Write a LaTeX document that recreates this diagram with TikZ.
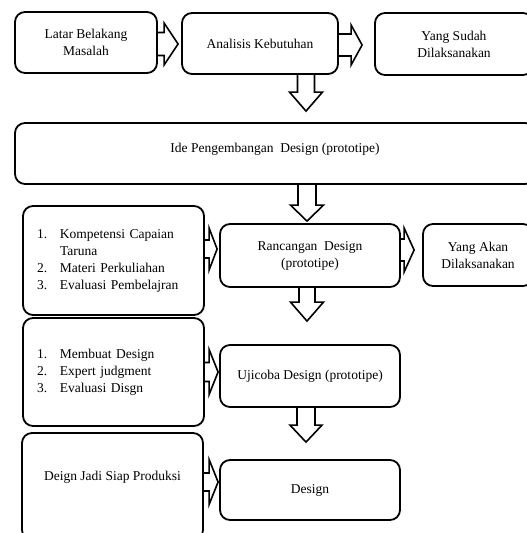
\documentclass[tikz,border=0pt]{standalone}
\usepackage{fontspec}
\setmainfont{Liberation Serif}
\usetikzlibrary{calc}
\pgfdeclarelayer{bg}
\pgfsetlayers{bg,main}
\tikzset{
  box/.style={draw, line width=1.8pt, rounded corners=10pt, fill=white, align=center,
    font=\fontsize{13.5}{17}\selectfont},
  txt/.style={align=center, inner sep=0pt, font=\fontsize{13.5}{17}\selectfont},
  blk/.style={draw, line width=1.6pt, fill=white, line join=miter}
}
% right block arrow: from, to, y, shaft half, head half, head length, gap
\newcommand{\rarr}[7]{%
  \begin{pgfonlayer}{bg}
  \draw[blk] let \p1=(#1.east), \p2=(#2.west) in
    (\x1,-#3pt+#4pt) -- (\x2-#7pt-#6pt,-#3pt+#4pt) -- (\x2-#7pt-#6pt,-#3pt+#5pt)
    -- (\x2-#7pt,-#3pt) -- (\x2-#7pt-#6pt,-#3pt-#5pt) -- (\x2-#7pt-#6pt,-#3pt-#4pt)
    -- (\x1,-#3pt-#4pt);
  \end{pgfonlayer}}
% down block arrow: from, to, x, shaft half, head half, head length, gap
\newcommand{\darr}[7]{%
  \begin{pgfonlayer}{bg}
  \draw[blk] let \p1=(#1.south), \p2=(#2.north) in
    (#3pt-#4pt,\y1) -- (#3pt-#4pt,\y2+#7pt+#6pt) -- (#3pt-#5pt,\y2+#7pt+#6pt)
    -- (#3pt,\y2+#7pt) -- (#3pt+#5pt,\y2+#7pt+#6pt) -- (#3pt+#4pt,\y2+#7pt+#6pt)
    -- (#3pt+#4pt,\y1);
  \end{pgfonlayer}}
\begin{document}
\begin{tikzpicture}
\useasboundingbox (0,0) rectangle (527pt,-533pt);
% row 1
\node[box, minimum width=142pt, minimum height=61pt] (b1) at (86pt,-42.5pt) {Latar Belakang\\Masalah};
\node[box, minimum width=156pt, minimum height=61pt] (b2) at (260pt,-43.5pt) {Analisis Kebutuhan};
\node[box, minimum width=158pt, minimum height=62pt] (b3) at (454pt,-44pt) {Yang Sudah\\Dilaksanakan};
% row 2
\node[box, minimum width=520pt, minimum height=61pt] (ide) at (275pt,-153.5pt) {};
\node[txt] (idetxt) at (275pt,-149pt) {Ide Pengembangan\ \ Design (prototipe)};
% row 3
\node[box, minimum width=181pt, minimum height=109pt, text width=153pt, inner xsep=14pt, align=left] (komp) at (113.5pt,-260.5pt)
  {\makebox[23pt][l]{1.}Kompetensi Capaian\\\hspace*{23pt}Taruna\\\makebox[23pt][l]{2.}Materi Perkuliahan\\\makebox[23pt][l]{3.}Evaluasi Pembelajran};
\node[box, minimum width=180pt, minimum height=63pt] (ranc) at (310pt,-255.5pt) {Rancangan\ \ Design\\(prototipe)};
\node[box, minimum width=110pt, minimum height=62pt] (akan) at (478pt,-255pt) {Yang Akan\\Dilaksanakan};
% row 4
\node[box, minimum width=181pt, minimum height=108pt, text width=153pt, inner xsep=14pt, align=left] (buat) at (113.5pt,-372pt)
  {\makebox[23pt][l]{1.}Membuat Design\\\makebox[23pt][l]{2.}Expert judgment\\\makebox[23pt][l]{3.}Evaluasi Disgn};
\node[box, minimum width=180pt, minimum height=62pt] (uji) at (310pt,-376pt) {Ujicoba Design (prototipe)};
% row 5
\node[box, minimum width=181pt, minimum height=107pt] (deign) at (112.5pt,-486.5pt) {};
\node[txt] (deigntxt) at (112.5pt,-477pt) {Deign Jadi Siap Produksi};
\node[box, minimum width=180pt, minimum height=60pt] (design) at (310pt,-490pt) {Design};
% arrows
\rarr{b1}{b2}{44}{11.5}{21}{14}{3}
\rarr{b2}{b3}{45}{11}{20}{11}{12}
\rarr{komp}{ranc}{249}{9}{21}{8}{2}
\rarr{ranc}{akan}{250}{11}{22}{10}{8}
\rarr{buat}{uji}{372}{9.5}{22.5}{9}{1}
\rarr{deign}{design}{482}{9}{22.5}{9}{1}
\darr{b2}{ide}{306}{8.5}{16.5}{19}{11}
\darr{ide}{ranc}{307}{9}{16.5}{16}{2}
\darr{ranc}{uji}{307}{8}{16.5}{19}{23}
\darr{uji}{design}{306}{9}{16}{17}{17}
\end{tikzpicture}
\end{document}
